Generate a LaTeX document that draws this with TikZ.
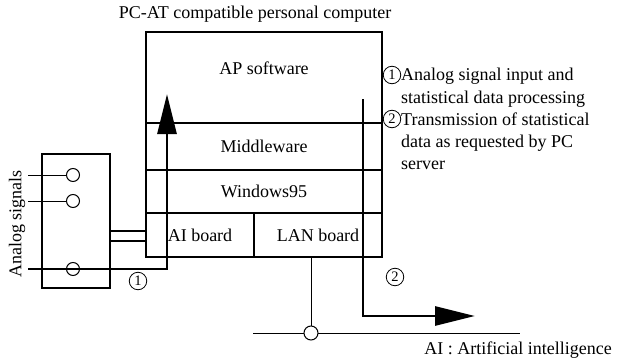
\documentclass[tikz,border=0pt]{standalone}
\usepackage{fontspec}
\setmainfont{Liberation Serif}
\usetikzlibrary{arrows.meta}

\begin{document}
\begin{tikzpicture}[x=1pt,y=-1pt,
  every node/.style={inner sep=0pt, font=\fontsize{18}{20}\selectfont},
  frame/.style={draw, line width=1.1pt},
  thinwire/.style={line width=1pt},
  flow/.style={line width=2.8pt, -{Triangle[length=40pt,width=19pt]}},
  terminal/.style={draw, circle, line width=1pt, minimum size=13pt},
  busjoint/.style={draw, circle, line width=1pt, fill=white, minimum size=14pt},
  stepno/.style={draw, circle, line width=0.8pt, minimum size=17.5pt, font=\fontsize{14.5}{14.5}\selectfont},
  noteline/.style={anchor=base west},
]
\useasboundingbox (0,0) rectangle (618,361);

% computer housing and its software layers
\node[frame, minimum width=236pt, minimum height=91pt]  (ap)  at (264,77.5) {};
\node[frame, minimum width=236pt, minimum height=47pt]  (mid) at (264,146.5) {Middleware};
\node[frame, minimum width=236pt, minimum height=43pt]  (win) at (264,191.5) {Windows95};
\node[frame, minimum width=108pt, minimum height=44pt]  (ai)  at (200,235) {AI board};
\node[frame, minimum width=128pt, minimum height=44pt]  (lan) at (318,235) {LAN board};
\node (aptext) at (264,68) {AP software};
\node (title) at (255,14) {PC-AT compatible personal computer};

% analog input panel
\node[frame, minimum width=68pt, minimum height=134pt] (panel) at (76,221) {};
\node[terminal] (c1) at (73,175) {};
\node[terminal] (c2) at (73,201) {};
\node[terminal] (c3) at (73,269) {};
\coordinate (s1) at (28,175);
\coordinate (s2) at (28,201);
\coordinate (s3) at (28,269);
\draw[thinwire] (s1) -- (c1.west);
\draw[thinwire] (s2) -- (c2.west);
\node[rotate=90] (sig) at (17,224) {Analog signals};

% cable from panel to the AI board
\coordinate (pa) at (110,231);
\coordinate (pb) at (110,241);
\draw[frame] (pa) -- (pa -| ai.west);
\draw[frame] (pb) -- (pb -| ai.west);

% data flow (1): analog input up to the application
\coordinate (uptip) at (167,94);
\draw[flow] (s3) -| (uptip);
\node[stepno] (n1) at (138,281) {1};

% data flow (2): out through the LAN
\coordinate (dtop) at (363,99);
\coordinate (dtip) at (475,316);
\draw[flow] (dtop) |- (dtip);
\node[stepno] (n2) at (395,277) {2};

% LAN bus
\coordinate (busL) at (253,333);
\coordinate (busR) at (520,333);
\draw[thinwire] (busL) -- (busR);
\node[busjoint] (tap) at (311,333) {};
\draw[thinwire] (lan.south -| tap) -- (tap.north);

% notes on the two flows
\node[stepno] (k1) at (392,75) {1};
\node[stepno] (k2) at (392,119) {2};
\node[noteline] (t1) at (401,81)  {Analog signal input and};
\node[noteline] (t2) at (401,103) {statistical data processing};
\node[noteline] (t3) at (401,125) {Transmission of statistical};
\node[noteline] (t4) at (401,147) {data as requested by PC};
\node[noteline] (t5) at (401,169) {server};
\node[anchor=east] (abbr) at (612,350) {AI : Artificial intelligence};
\end{tikzpicture}
\end{document}
